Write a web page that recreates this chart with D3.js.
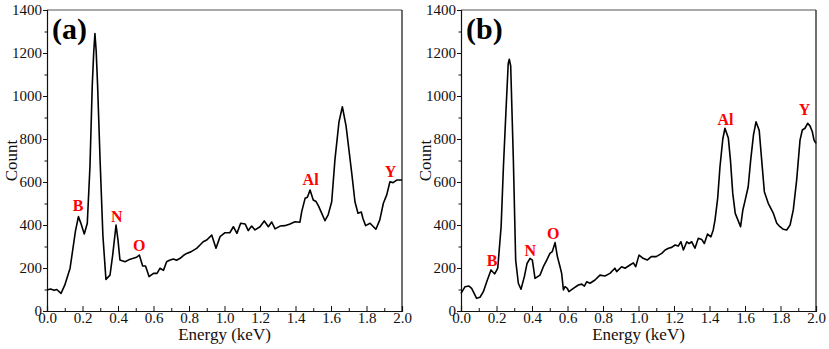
<!DOCTYPE html>
<html>
<head>
<meta charset="utf-8">
<script src="https://cdn.jsdelivr.net/npm/d3@7"></script>
<style>
  html, body { margin: 0; padding: 0; background: #fff; }
  svg text { font-family: "Liberation Serif", "Times New Roman", serif; }
</style>
</head>
<body>
<svg id="chart" width="829" height="349"></svg>
<script>
// EDS spectrum (a)
const energyA = [0, 0.02, 0.04, 0.055, 0.079, 0.1, 0.13, 0.145, 0.16, 0.177, 0.19, 0.21, 0.227, 0.242, 0.255, 0.263, 0.27, 0.277, 0.285, 0.299, 0.315, 0.332, 0.355, 0.37, 0.389, 0.4, 0.411, 0.44, 0.465, 0.486, 0.505, 0.52, 0.539, 0.555, 0.575, 0.6, 0.62, 0.637, 0.656, 0.674, 0.69, 0.712, 0.73, 0.75, 0.768, 0.787, 0.81, 0.843, 0.862, 0.88, 0.9, 0.928, 0.952, 0.975, 1.003, 1.03, 1.05, 1.07, 1.091, 1.116, 1.134, 1.153, 1.172, 1.2, 1.224, 1.247, 1.266, 1.285, 1.313, 1.34, 1.369, 1.397, 1.425, 1.435, 1.454, 1.467, 1.482, 1.5, 1.516, 1.53, 1.548, 1.566, 1.584, 1.604, 1.622, 1.645, 1.664, 1.685, 1.717, 1.735, 1.752, 1.771, 1.78, 1.795, 1.82, 1.853, 1.875, 1.895, 1.914, 1.932, 1.95, 1.97, 2.0];
const countA  = [98, 102, 96, 100, 82, 120, 199, 284, 370, 439, 410, 358, 408, 671, 1050, 1200, 1291, 1210, 1050, 702, 350, 147, 167, 260, 400, 330, 237, 229, 240, 245, 250, 260, 209, 209, 160, 175, 175, 199, 189, 229, 236, 242, 236, 245, 258, 268, 275, 291, 307, 322, 330, 353, 292, 346, 364, 364, 392, 361, 408, 405, 374, 395, 377, 392, 419, 392, 414, 382, 395, 397, 405, 415, 413, 462, 524, 529, 563, 516, 509, 488, 454, 420, 447, 508, 702, 880, 950, 860, 640, 508, 455, 460, 430, 397, 408, 380, 424, 501, 540, 601, 597, 609, 609];

// EDS spectrum (b)
const energyB = [0, 0.023, 0.045, 0.06, 0.088, 0.107, 0.126, 0.145, 0.169, 0.182, 0.19, 0.207, 0.226, 0.239, 0.255, 0.266, 0.272, 0.28, 0.295, 0.308, 0.323, 0.338, 0.357, 0.372, 0.389, 0.402, 0.417, 0.432, 0.445, 0.464, 0.483, 0.501, 0.514, 0.53, 0.543, 0.558, 0.567, 0.577, 0.586, 0.599, 0.608, 0.633, 0.661, 0.68, 0.695, 0.708, 0.727, 0.755, 0.783, 0.811, 0.839, 0.867, 0.877, 0.905, 0.924, 0.952, 0.971, 0.984, 1.003, 1.026, 1.049, 1.072, 1.1, 1.131, 1.15, 1.169, 1.187, 1.206, 1.224, 1.239, 1.253, 1.272, 1.285, 1.3, 1.318, 1.337, 1.356, 1.371, 1.389, 1.408, 1.421, 1.431, 1.446, 1.459, 1.475, 1.487, 1.506, 1.518, 1.531, 1.545, 1.562, 1.575, 1.588, 1.601, 1.618, 1.632, 1.648, 1.662, 1.68, 1.694, 1.709, 1.731, 1.76, 1.779, 1.797, 1.816, 1.835, 1.854, 1.872, 1.891, 1.91, 1.923, 1.938, 1.953, 1.966, 1.979, 1.989, 2.0];
const countB  = [82, 113, 116, 105, 59, 64, 90, 136, 191, 179, 173, 199, 392, 671, 960, 1150, 1171, 1140, 702, 237, 129, 101, 160, 221, 245, 237, 152, 160, 167, 206, 237, 268, 276, 318, 253, 206, 175, 98, 113, 105, 90, 105, 121, 125, 116, 136, 129, 144, 167, 163, 175, 199, 183, 206, 199, 214, 224, 206, 260, 245, 237, 253, 253, 268, 284, 292, 296, 307, 302, 322, 284, 322, 314, 322, 292, 338, 333, 314, 358, 345, 377, 423, 524, 671, 800, 850, 805, 702, 547, 454, 419, 392, 470, 516, 578, 702, 820, 880, 840, 702, 555, 501, 454, 408, 392, 380, 377, 400, 470, 609, 795, 842, 850, 873, 861, 835, 795, 780];

// Element markers: [symbol, energy, count] for label placement
const labelsA = [["B", 0.175, 465], ["N", 0.393, 415], ["O", 0.52, 280], ["Al", 1.485, 585], ["Y", 1.935, 625]];
const labelsB = [["B", 0.175, 210], ["N", 0.39, 255], ["O", 0.52, 333], ["Al", 1.49, 865], ["Y", 1.935, 910]];

const xTicks = [0, 0.2, 0.4, 0.6, 0.8, 1.0, 1.2, 1.4, 1.6, 1.8, 2.0];
const xMinor = [0.1, 0.3, 0.5, 0.7, 0.9, 1.1, 1.3, 1.5, 1.7, 1.9];
const yTicks = [0, 200, 400, 600, 800, 1000, 1200, 1400];
const yMinor = [100, 300, 500, 700, 900, 1100, 1300];

const panels = [
  { tag: "(a)", left: 47, energy: energyA, count: countA, labels: labelsA },
  { tag: "(b)", left: 461, energy: energyB, count: countB, labels: labelsB }
];

const SERIF = "'Liberation Serif', 'Times New Roman', serif";
const svg = d3.select("#chart");
const plotTop = 10, plotBottom = 311, plotW = 355;

panels.forEach(p => {
  const g = svg.append("g").attr("transform", `translate(${p.left},0)`)
    .attr("font-family", SERIF);
  const x = d3.scaleLinear().domain([0, 2]).range([0, plotW]);
  const y = d3.scaleLinear().domain([0, 1400]).range([plotBottom, plotTop]);

  // frame: top and right edges
  g.append("line").attr("x1", 0).attr("x2", plotW).attr("y1", plotTop).attr("y2", plotTop)
    .attr("stroke", "#555").attr("stroke-width", 1.2);
  g.append("line").attr("x1", plotW).attr("x2", plotW).attr("y1", plotTop).attr("y2", plotBottom)
    .attr("stroke", "#111").attr("stroke-width", 1.2);

  // x axis, ticks pointing inward
  g.append("g").attr("transform", `translate(0,${plotBottom})`)
    .call(d3.axisBottom(x).tickValues(xTicks).tickSize(-5).tickPadding(1).tickFormat(d3.format(".1f")));
  g.append("g").attr("transform", `translate(0,${plotBottom})`)
    .call(d3.axisBottom(x).tickValues(xMinor).tickSize(-3).tickFormat(""))
    .call(s => s.select(".domain").remove());

  // y axis, ticks pointing outward
  g.append("g")
    .call(d3.axisLeft(y).tickValues(yTicks).tickSize(4).tickPadding(1).tickFormat(d3.format("d")));
  g.append("g")
    .call(d3.axisLeft(y).tickValues(yMinor).tickSize(2.5).tickFormat(""))
    .call(s => s.select(".domain").remove());

  g.selectAll("g").attr("font-family", SERIF);
  g.selectAll(".domain").attr("stroke", "#111").attr("stroke-width", 1.2);
  g.selectAll(".tick line").attr("stroke", "#111").attr("stroke-width", 1);
  g.selectAll(".tick text").attr("font-size", 15).attr("fill", "#111")
    .attr("font-family", SERIF).style("font-family", SERIF);

  // spectrum trace
  const pts = p.energy.map((e, i) => [e, p.count[i]]);
  g.append("path").datum(pts)
    .attr("fill", "none").attr("stroke", "#000").attr("stroke-width", 1.6)
    .attr("stroke-linejoin", "round")
    .attr("d", d3.line().x(d => x(d[0])).y(d => y(d[1])));

  // element labels
  g.selectAll(".elem").data(p.labels).join("text")
    .attr("class", "elem")
    .attr("x", d => x(d[1])).attr("y", d => y(d[2]))
    .attr("text-anchor", "middle").attr("font-size", 16).attr("font-weight", "bold")
    .attr("fill", "#ff0000").text(d => d[0]);

  // panel tag
  g.append("text").attr("x", 5).attr("y", 39)
    .attr("font-size", 30).attr("font-weight", "bold").attr("fill", "#000").text(p.tag);

  // axis titles
  g.append("text").attr("x", plotW / 2).attr("y", 340)
    .attr("text-anchor", "middle").attr("font-size", 17).attr("fill", "#111").text("Energy (keV)");
  g.append("text").attr("transform", `translate(-30,${(plotTop + plotBottom) / 2}) rotate(-90)`)
    .attr("text-anchor", "middle").attr("font-size", 17).attr("fill", "#111").text("Count");
});
</script>
</body>
</html>
